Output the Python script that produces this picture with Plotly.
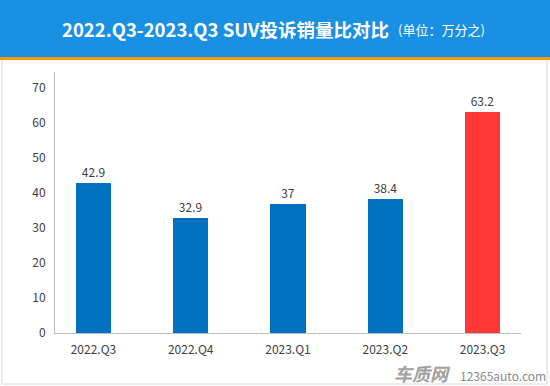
import plotly.graph_objects as go

categories = ["2022.Q3", "2022.Q4", "2023.Q1", "2023.Q2", "2023.Q3"]
values = [42.9, 32.9, 37, 38.4, 63.2]
value_labels = ["42.9", "32.9", "37", "38.4", "63.2"]
bar_colors = ["#0070C0", "#0070C0", "#0070C0", "#0070C0", "#FF3737"]
y_ticks = [0, 10, 20, 30, 40, 50, 60, 70]
title_main = "2022.Q3-2023.Q3 SUV投诉销量比对比"
title_unit = "(单位：万分之)"

W, H = 550, 386
L, R, T, B = 55, 521, 72, 333
FONT = "Noto Sans CJK SC, Noto Sans, DejaVu Sans, sans-serif"

def px(x):
    return (x - L) / (R - L)

def py(y):
    return (B - y) / (B - T)

fig = go.Figure()
fig.add_trace(go.Bar(
    x=list(range(len(categories))),
    y=values,
    width=0.36,
    marker=dict(color=bar_colors, line=dict(width=0)),
    text=value_labels,
    textposition="outside",
    textfont=dict(size=12, color="#404040", family=FONT),
    cliponaxis=False,
    hoverinfo="skip",
))

shapes = [
    dict(type="rect", xref="paper", yref="paper", x0=px(2), x1=px(547), y0=py(384), y1=py(58),
         line=dict(color="#D9D9D9", width=1), fillcolor="rgba(0,0,0,0)", layer="below"),
    dict(type="rect", xref="paper", yref="paper", x0=px(0), x1=px(W), y0=py(57), y1=py(0),
         line=dict(width=0), fillcolor="#1A90E2", layer="below"),
    dict(type="rect", xref="paper", yref="paper", x0=px(0), x1=px(W), y0=py(60), y1=py(57),
         line=dict(width=0), fillcolor="#F39A12", layer="below"),
]

annotations = [
    dict(xref="paper", yref="paper", x=px(391), y=py(29), xanchor="right", yanchor="middle",
         text="<b>" + title_main + "</b>", showarrow=False,
         font=dict(size=18.5, color="white", family=FONT)),
    dict(xref="paper", yref="paper", x=px(396), y=py(30), xanchor="left", yanchor="middle",
         text=title_unit, showarrow=False,
         font=dict(size=13, color="white", family=FONT)),
    dict(xref="paper", yref="paper", x=px(453), y=py(373), xanchor="right", yanchor="middle",
         text="<b><i>车质网</i></b>", showarrow=False,
         font=dict(size=18, color="#A0A0A0", family=FONT)),
    dict(xref="paper", yref="paper", x=px(458), y=py(375), xanchor="left", yanchor="middle",
         text="12365auto.com", showarrow=False,
         font=dict(size=12, color="#8A8A8A", family=FONT)),
]

fig.update_layout(
    width=W, height=H,
    margin=dict(l=L, r=W - R, t=T, b=H - B, pad=0),
    paper_bgcolor="white", plot_bgcolor="white",
    showlegend=False,
    shapes=shapes,
    annotations=annotations,
    font=dict(family=FONT, size=12, color="#404040"),
    bargap=0,
)
fig.update_xaxes(
    range=[-0.395, 4.395],
    tickmode="array", tickvals=list(range(len(categories))), ticktext=categories,
    showline=True, linecolor="#BFBFBF", linewidth=1,
    showgrid=False, zeroline=False, ticks="",
    tickfont=dict(size=12, color="#404040", family=FONT),
    ticklabelstandoff=6,
    fixedrange=True,
)
fig.update_yaxes(
    range=[0, 74.6],
    tickmode="array", tickvals=y_ticks,
    showline=True, linecolor="#BFBFBF", linewidth=1,
    showgrid=False, zeroline=False, ticks="",
    tickfont=dict(size=12, color="#404040", family=FONT),
    ticklabelstandoff=6,
    fixedrange=True,
)

fig.write_html("out.html", config={"displayModeBar": False},
               post_script="document.body.style.margin='0';document.body.style.overflow='hidden';")
